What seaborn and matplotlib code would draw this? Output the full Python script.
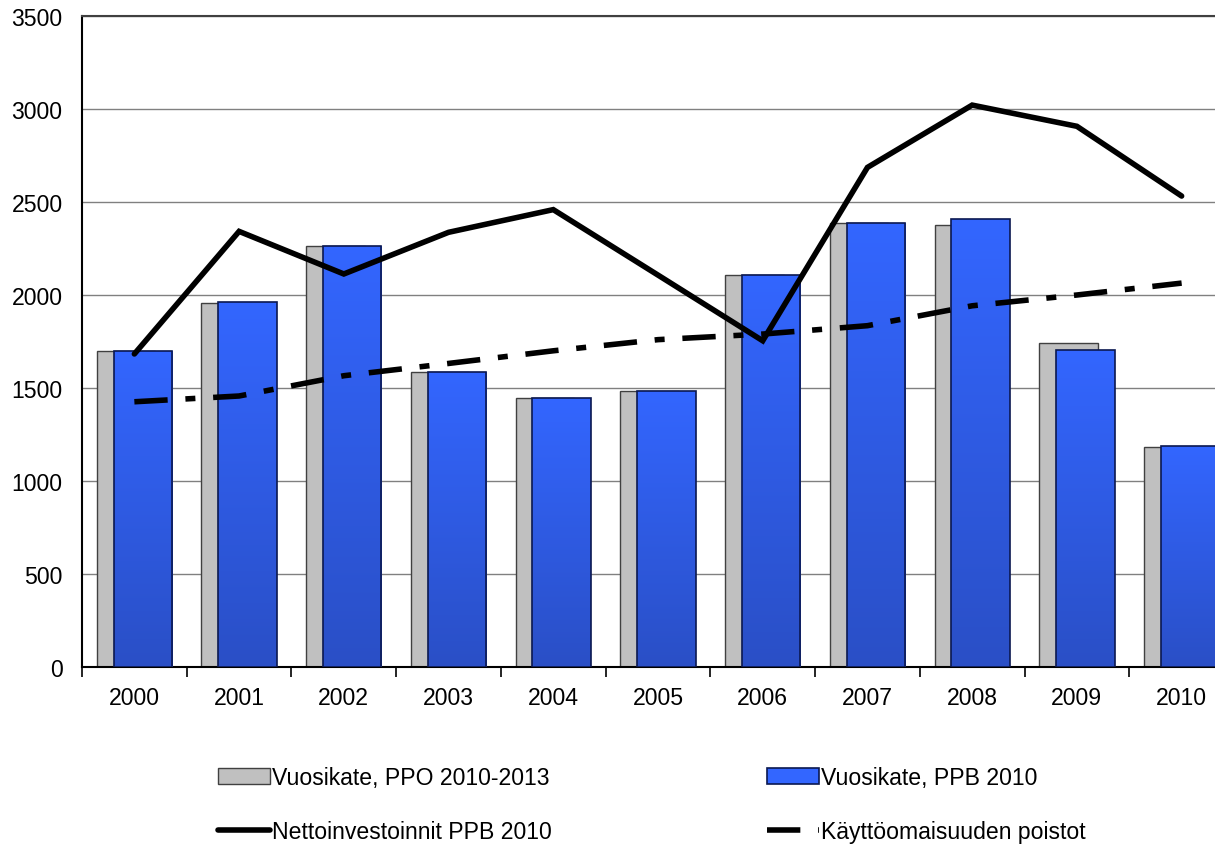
import numpy as np
import pandas as pd
import matplotlib
matplotlib.use("Agg")
import matplotlib.pyplot as plt
import seaborn as sns
from matplotlib.colors import LinearSegmentedColormap
from matplotlib.lines import Line2D
from matplotlib.patches import Patch

# ---- data ----
years = [2000, 2001, 2002, 2003, 2004, 2005, 2006, 2007, 2008, 2009, 2010]
vuosikate_ppo = [1700, 1955, 2265, 1588, 1444, 1482, 2109, 2387, 2378, 1742, 1184]
vuosikate_ppb = [1700, 1961, 2265, 1588, 1444, 1482, 2109, 2387, 2407, 1704, 1190]
nettoinvestoinnit = [1683, 2342, 2113, 2337, 2459, 2107, 1754, 2686, 3021, 2907, 2532]
poistot = [1426, 1457, 1566, 1632, 1700, 1760, 1790, 1835, 1942, 2000, 2064]
labels = ["Vuosikate, PPO 2010-2013", "Vuosikate, PPB 2010",
          "Nettoinvestoinnit PPB 2010", "Käyttöomaisuuden poistot"]
y_ticks = [0, 500, 1000, 1500, 2000, 2500, 3000, 3500]

sns.set_style("white")
plt.rcParams["font.family"] = ["Liberation Sans", "DejaVu Sans"]
plt.rcParams["text.color"] = "black"
plt.rcParams["xtick.color"] = "black"
plt.rcParams["ytick.color"] = "black"

W, H = 1215, 845
fig = plt.figure(figsize=(W / 100, H / 100), dpi=100)
ax = fig.add_axes([82 / W, 177 / H, 1152 / W, 651 / H])

GRAY = "#C0C0C0"
BLUE = "#3366FF"
BLUE_EDGE = "#0B1850"
off = 0.08
bw = 0.558
LW = 4.0
dash_pat = (6.0, 3.2, 1.8, 3.2)

sns.barplot(x=[y - off for y in years], y=vuosikate_ppo, native_scale=True,
            width=bw, color=GRAY, edgecolor="#404040", linewidth=1.0,
            saturation=1, ax=ax, zorder=2)
n_gray = len(ax.patches)
sns.barplot(x=[y + off for y in years], y=vuosikate_ppb, native_scale=True,
            width=bw, color=BLUE, edgecolor=BLUE_EDGE, linewidth=1.2,
            saturation=1, ax=ax, zorder=3)
blue_patches = ax.patches[n_gray:]

cmap = LinearSegmentedColormap.from_list("bg", ["#2A4FC6", BLUE])
grad = np.linspace(0, 1, 256).reshape(-1, 1)
for p in blue_patches:
    x0, y0, w, h = p.get_x(), p.get_y(), p.get_width(), p.get_height()
    im = ax.imshow(grad, extent=[x0, x0 + w, y0, y0 + h], aspect="auto",
                   cmap=cmap, origin="lower", zorder=3, interpolation="bilinear")
    im.set_clip_path(p)
    p.set_facecolor("none")
    p.set_zorder(3.5)

sns.lineplot(x=years, y=nettoinvestoinnit, color="black", linewidth=LW,
             ax=ax, zorder=5)
ax.lines[-1].set_solid_joinstyle("miter")
sns.lineplot(x=years, y=poistot, color="black", linewidth=LW, ax=ax, zorder=5)
ax.lines[-1].set_linestyle((0, dash_pat))

ax.set_xlim(1999.5, 2010.5)
ax.set_ylim(0, 3500)
ax.set_aspect("auto")
ax.set_xlabel("")
ax.set_ylabel("")

ax.set_yticks(y_ticks)
ax.set_yticklabels([str(t) for t in y_ticks])
ax.set_xticks(years)
ax.set_xticklabels([str(y) for y in years])
ax.set_xticks([y - 0.5 for y in years] + [years[-1] + 0.5], minor=True)
ax.tick_params(axis="both", which="major", length=0, labelsize=16.6,
               pad=14, colors="black")
ax.tick_params(axis="x", which="minor", length=7, width=1.2, color="black",
               direction="out", bottom=True)

ax.yaxis.grid(True, color="#808080", linewidth=1.0)
ax.xaxis.grid(False)
ax.set_axisbelow(True)

for s in ["left", "bottom"]:
    ax.spines[s].set_color("black")
    ax.spines[s].set_linewidth(1.5)
ax.spines["top"].set_color("#404040")
ax.spines["top"].set_linewidth(1.5)
ax.spines["right"].set_visible(False)

handles = [
    Patch(facecolor=GRAY, edgecolor="#404040", linewidth=1.0),
    Line2D([0], [0], color="black", linewidth=LW),
    Patch(facecolor=BLUE, edgecolor=BLUE_EDGE, linewidth=1.2),
    Line2D([0], [0], color="black", linewidth=LW, linestyle=(0, dash_pat)),
]
hlabels = [labels[0], labels[2], labels[1], labels[3]]
leg = fig.legend(handles, hlabels, loc="upper left",
                 bbox_to_anchor=(218 / W, 1 - 767 / H), ncol=2, frameon=False,
                 fontsize=16.6, handlelength=2.26, handletextpad=0.1,
                 columnspacing=9.3, labelspacing=1.35, borderpad=0,
                 borderaxespad=0)
for t in leg.get_texts():
    t.set_color("black")

fig.savefig("out.png", dpi=100)
